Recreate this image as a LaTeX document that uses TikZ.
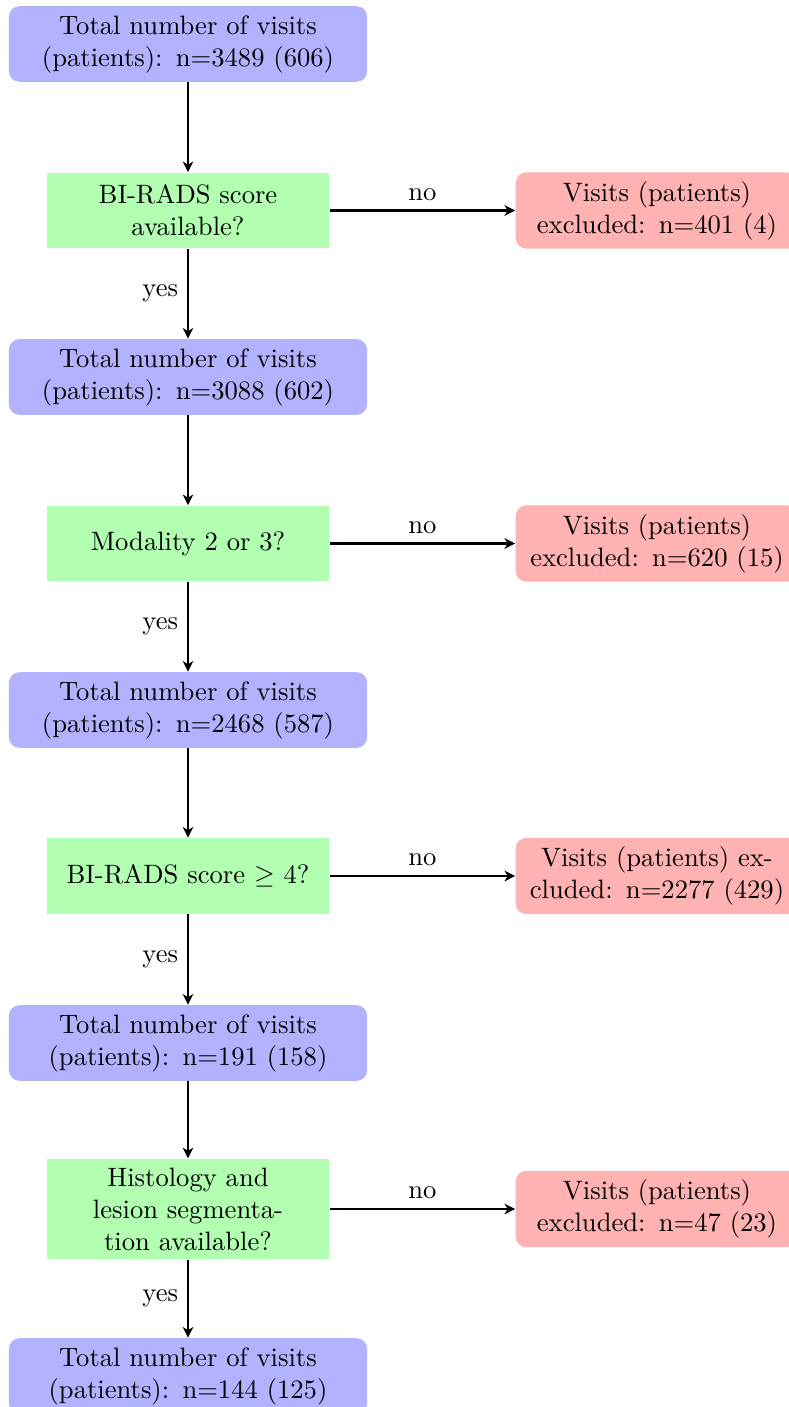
\documentclass[tikz,border=0pt]{standalone}
\usetikzlibrary{arrows.meta}
\begin{document}
\begin{tikzpicture}[x=0.37594pt, y=-0.37594pt,
  base/.style={minimum height=1cm, inner sep=0.333em, align=center},
  total/.style={base, fill=blue!30, rounded corners=4pt, text width=4.5cm},
  check/.style={base, fill=green!30, text width=3.5cm},
  drop/.style={base, fill=red!30, rounded corners=4pt, text width=3.5cm},
  flow/.style={thick, -{Stealth[length=4pt, width=4pt, inset=1.2pt]}}]
\useasboundingbox (0,0) rectangle (788,1407);

% main column
\node[total] (b1) at (188,44)    {Total number of visits (patients): n=3489 (606)};
\node[check] (g1) at (188,210.5) {BI-RADS score available?};
\node[total] (b2) at (188,377)   {Total number of visits (patients): n=3088 (602)};
\node[check] (g2) at (188,543.5) {Modality 2 or 3?};
\node[total] (b3) at (188,710)   {Total number of visits (patients): n=2468 (587)};
\node[check] (g3) at (188,876)   {BI-RADS score $\geq$ 4?};
\node[total] (b4) at (188,1043)  {Total number of visits (patients): n=191 (158)};
\node[check] (g4) at (188,1209)  {Histology and lesion segmentation available?};
\node[total] (b5) at (188,1376)  {Total number of visits (patients): n=144 (125)};

% exclusions
\node[drop] (r1) at (657,210.5) {Visits (patients) excluded: n=401 (4)};
\node[drop] (r2) at (657,543.5) {Visits (patients) excluded: n=620 (15)};
\node[drop] (r3) at (657,876)   {Visits (patients) excluded: n=2277 (429)};
\node[drop] (r4) at (657,1209)  {Visits (patients) excluded: n=47 (23)};

% connectors
\draw[flow] (b1) -- (g1);
\draw[flow] (g1) -- node[left] {yes} (b2);
\draw[flow] (b2) -- (g2);
\draw[flow] (g2) -- node[left] {yes} (b3);
\draw[flow] (b3) -- (g3);
\draw[flow] (g3) -- node[left] {yes} (b4);
\draw[flow] (b4) -- (g4);
\draw[flow] (g4) -- node[left] {yes} (b5);

\draw[flow] (g1) -- node[above] {no} (r1);
\draw[flow] (g2) -- node[above] {no} (r2);
\draw[flow] (g3) -- node[above] {no} (r3);
\draw[flow] (g4) -- node[above] {no} (r4);
\end{tikzpicture}
\end{document}
